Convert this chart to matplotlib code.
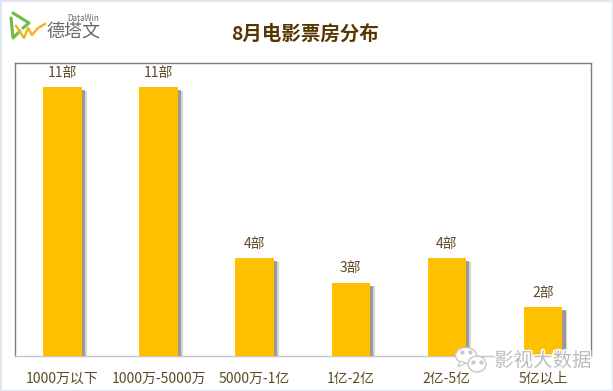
import matplotlib
matplotlib.use('Agg')
import matplotlib.pyplot as plt
import matplotlib.patheffects as pe
from matplotlib.patches import Ellipse, Polygon, Rectangle

plt.rcParams['font.family'] = ['Noto Sans CJK SC', 'DejaVu Sans']

categories = ['1000万以下', '1000万-5000万', '5000万-1亿', '1亿-2亿', '2亿-5亿', '5亿以上']
film_counts = [11, 11, 4, 3, 4, 2]
count_labels = ['11部', '11部', '4部', '3部', '4部', '2部']
title = '8月电影票房分布'

W, H = 613, 391
fig = plt.figure(figsize=(W / 100, H / 100), dpi=100, facecolor='white')

# pixel overlay for page border, logo and watermark
bg = fig.add_axes([0, 0, 1, 1], zorder=0)
bg.set_xlim(0, W)
bg.set_ylim(H, 0)
bg.axis('off')
bg.add_patch(Rectangle((0, 0), W, H, fc='none', ec='#e2e6f0', lw=2.4))

ax = fig.add_axes([14.5 / W, 1 - 356 / H, 576.5 / W, 293 / H], zorder=1)
ax.patch.set_alpha(0)
bars = ax.bar(range(len(categories)), film_counts, width=0.4, color='#ffc000', zorder=3)
for b in bars:
    # soft shadow, built from a pale wide layer and a darker narrow one
    b.set_path_effects([pe.SimplePatchShadow(offset=(3.6, -2.5), shadow_rgbFace='#c4c4c4', alpha=0.7),
                        pe.SimplePatchShadow(offset=(2.4, -2), shadow_rgbFace='#8c8c8c', alpha=0.8),
                        pe.Normal()])
ax.set_xlim(-0.5, 5.5)
ax.set_ylim(0, 12)
ax.set_yticks([])
ax.set_xticks(range(len(categories)))
ax.set_xticklabels(categories, fontsize=10, color='#5c4a28')
ax.tick_params(axis='x', length=0, pad=11.5)
for side in ['left', 'top', 'right']:
    ax.spines[side].set_color('#7f7f7f')
    ax.spines[side].set_linewidth(1)
ax.spines['bottom'].set_color('#c4c8cc')
ax.spines['bottom'].set_linewidth(1)

for i, v in enumerate(film_counts):
    ax.annotate(count_labels[i], (i, v), xytext=(0, 10.5), textcoords='offset points',
                ha='center', va='center', fontsize=10, color='#5c4a28')

fig.text(305 / W, 1 - 34 / H, title, ha='center', va='center', fontsize=14,
         fontweight='bold', color='#553800')

# logo
over = fig.add_axes([0, 0, 1, 1], zorder=2)
over.set_xlim(0, W)
over.set_ylim(H, 0)
over.axis('off')
over.patch.set_alpha(0)
over.plot([11, 13, 20], [18, 38, 31], color='#6cbd45', lw=2.2, solid_capstyle='round')
over.plot([13, 29, 23], [13, 23, 28], color='#6cbd45', lw=2.2, solid_capstyle='round')
over.plot([16, 24, 28, 32, 38, 45], [26, 38, 28, 35, 28, 24], color='#f7b21a', lw=1.7)
over.text(73.5, 31.5, '德塔文', fontsize=13, color='#666666', ha='center', va='center')
over.text(83, 18.5, 'DataWin', fontsize=5.8, color='#666666', ha='center', va='center')

# watermark
over.add_patch(Ellipse((466, 355.5), 21, 16, fc='white', ec='#c8c8c8', lw=1))
over.add_patch(Polygon([[460, 361], [458, 367], [466, 363]], fc='white', ec='#c8c8c8', lw=0.8))
over.add_patch(Ellipse((477, 364), 18, 16, fc='white', ec='#c8c8c8', lw=1))
over.plot([462, 470, 473, 481], [352, 352, 362, 362], ls='none', marker='o', ms=2, color='#c8c8c8')
over.text(543, 361, '影视大数据', fontsize=14, color='#bdbdbd', ha='center', va='center',
          path_effects=[pe.withStroke(linewidth=2, foreground='white')])

fig.savefig('out.png', dpi=100)
